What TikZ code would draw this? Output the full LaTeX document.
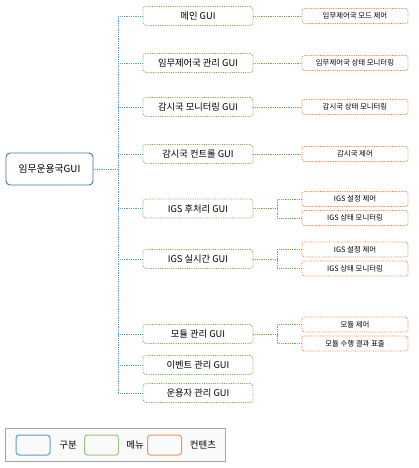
\documentclass[tikz,border=0pt]{standalone}
\usepackage{fontspec}
\setmainfont{Noto Sans CJK KR}
\definecolor{gubunblue}{HTML}{41719C}
\definecolor{trunkblue}{HTML}{5B9BD5}
\definecolor{menugreen}{HTML}{70AD47}
\definecolor{contentorange}{HTML}{ED7D31}
\definecolor{legendgray}{HTML}{A6A6A6}
\definecolor{legendfill}{HTML}{FAFAFA}

\begin{document}
\begin{tikzpicture}[x=1pt,y=-1pt,
  gubun/.style={draw=gubunblue,line width=0.9pt,rounded corners=4pt,minimum width=87pt,minimum height=32pt,font=\fontsize{9.8}{11}\selectfont},
  menu/.style={draw=menugreen,densely dotted,line width=0.8pt,rounded corners=3pt,minimum width=110pt,minimum height=19pt,font=\fontsize{9.3}{10}\selectfont},
  content/.style={draw=contentorange,densely dotted,line width=0.8pt,rounded corners=2.5pt,minimum width=106pt,minimum height=15pt,font=\fontsize{7.4}{8}\selectfont},
  trunk/.style={draw=trunkblue,densely dotted,line width=0.8pt},
  link/.style={draw=menugreen,densely dotted,line width=0.8pt},
  swatch/.style={draw=#1,line width=1pt,rounded corners=3pt,minimum width=34pt,minimum height=20pt},
  legendtext/.style={font=\fontsize{9.5}{11}\selectfont}]
\useasboundingbox (0,0) rectangle (418,468);

\node[gubun] (main) at (49.5,169) {임무운용국GUI};

\node[menu] (m1) at (198,16) {메인 GUI};
\node[menu] (m2) at (198,63) {임무제어국 관리 GUI};
\node[menu] (m3) at (198,107) {감시국 모니터링 GUI};
\node[menu] (m4) at (198,154) {감시국 컨트롤 GUI};
\node[menu] (m5) at (198,208.5) {IGS 후처리 GUI};
\node[menu] (m6) at (198,259) {IGS 실시간 GUI};
\node[menu] (m7) at (198,334) {모듈 관리 GUI};
\node[menu] (m8) at (198,365) {이벤트 관리 GUI};
\node[menu] (m9) at (198,393) {운용자 관리 GUI};

\node[content] (c1) at (355,16) {임무제어국 모드 제어};
\node[content] (c2) at (355,63) {임무제어국 상태 모니터링};
\node[content] (c3) at (355,107) {감시국 상태 모니터링};
\node[content] (c4) at (355,154) {감시국 제어};
\node[content] (c5a) at (355,199) {IGS 설정 제어};
\node[content] (c5b) at (355,218) {IGS 상태 모니터링};
\node[content] (c6a) at (355,249.5) {IGS 설정 제어};
\node[content] (c6b) at (355,268.5) {IGS 상태 모니터링};
\node[content] (c7a) at (355,324.5) {모듈 제어};
\node[content] (c7b) at (355,343.5) {모듈 수행 결과 표출};

\coordinate (tk) at (118,0);
\draw[trunk] (main.east) -- (main.east -| tk);
\draw[trunk] (m1.west -| tk) -- (m9.west -| tk);
\foreach \m in {m1,m2,m3,m4,m5,m6,m7,m8,m9}
  \draw[trunk] (\m.west) -- (\m.west -| tk);

\draw[link] (m1.east) -- (c1.west);
\draw[link] (m2.east) -- (c2.west);
\draw[link] (m3.east) -- (c3.west);
\draw[link] (m4.east) -- (c4.west);
\foreach \m/\a/\b in {m5/c5a/c5b,m6/c6a/c6b,m7/c7a/c7b} {
  \draw[link] (\m.east) -- ++(24,0) coordinate (j\m);
  \draw[link] (\a.west) -| (j\m) |- (\b.west);
}

\node[draw=legendgray,fill=legendfill,line width=1pt,minimum width=220pt,minimum height=33pt] (legend) at (115,444.5) {};
\node[swatch=trunkblue] (sw1) at (33,445) {};
\node[legendtext] (t1) at (68,445) {구분};
\node[swatch=menugreen!70] (sw2) at (101.5,445) {};
\node[legendtext] (t2) at (135,445) {메뉴};
\node[swatch=contentorange!80] (sw3) at (164.5,445) {};
\node[legendtext] (t3) at (203,445) {컨텐츠};
\end{tikzpicture}
\end{document}
